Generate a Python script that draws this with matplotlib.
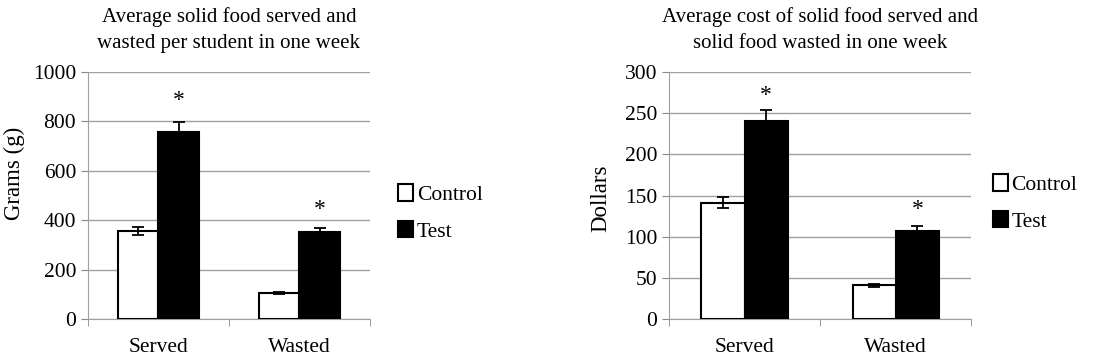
import numpy as np
from matplotlib import pyplot as plt

plt.rcParams['font.family'] = ['Liberation Serif', 'DejaVu Serif']

categories = ['Served', 'Wasted']
series = ['Control', 'Test']

# grams per student
grams_control = [356, 104]
grams_control_err = [17, 4]
grams_test = [758, 351]
grams_test_err = [38, 19]

# dollars
cost_control = [141.5, 41]
cost_control_err = [7, 2]
cost_test = [241, 107]
cost_test_err = [13, 6]

titles = ['Average solid food served and\nwasted per student in one week',
          'Average cost of solid food served and\nsolid food wasted in one week']
ylabels = ['Grams (g)', 'Dollars']
yticks = [np.arange(0, 1001, 200), np.arange(0, 301, 50)]
stars = [[884, 445], [272, 133]]


def draw_panel(ax, ctrl, ctrl_err, test, test_err, title, ylabel, ticks, star_y):
    x = np.arange(len(categories))
    w = 0.285
    ax.bar(x - w / 2, ctrl, w, color='white', edgecolor='black', linewidth=1.5,
           label=series[0], zorder=3)
    ax.bar(x + w / 2, test, w, color='black', edgecolor='black', linewidth=1.5,
           label=series[1], zorder=3)
    ax.errorbar(x - w / 2, ctrl, yerr=ctrl_err, fmt='none', ecolor='black',
                elinewidth=1.3, capsize=4, capthick=1.3, zorder=4)
    ax.errorbar(x + w / 2, test, yerr=test_err, fmt='none', ecolor='black',
                elinewidth=1.3, capsize=4, capthick=1.3, zorder=4)
    for xi, sy in zip(x, star_y):
        ax.text(xi + w / 2, sy, '*', ha='center', va='center', fontsize=17)

    ax.set_xlim(-0.5, 1.5)
    ax.set_ylim(ticks[0], ticks[-1])
    ax.set_yticks(ticks)
    ax.set_xticks(x)
    ax.set_xticklabels(categories, fontsize=15.5)
    ax.set_xticks([-0.5, 0.5, 1.5], minor=True)
    ax.tick_params(axis='x', which='major', length=0, pad=14)
    ax.tick_params(axis='x', which='minor', length=5, color='#888888', direction='out')
    ax.tick_params(axis='y', labelsize=15.5, length=5, color='#888888')
    ax.yaxis.grid(True, color='#a0a0a0', linewidth=1, linestyle='-', zorder=0)
    ax.set_axisbelow(True)
    for s in ['top', 'right']:
        ax.spines[s].set_visible(False)
    ax.spines['left'].set_color('#a0a0a0')
    ax.spines['bottom'].set_color('#a0a0a0')
    ax.set_title(title, fontsize=15, pad=17, linespacing=1.55)
    ax.set_ylabel(ylabel, fontsize=16.5)


fig = plt.figure(figsize=(10.94, 3.64), dpi=100)
ax1 = fig.add_axes([0.0804, 0.1236, 0.2578, 0.6784])
ax2 = fig.add_axes([0.6115, 0.1236, 0.2765, 0.6784])

draw_panel(ax1, grams_control, grams_control_err, grams_test, grams_test_err,
           titles[0], ylabels[0], yticks[0], stars[0])
draw_panel(ax2, cost_control, cost_control_err, cost_test, cost_test_err,
           titles[1], ylabels[1], yticks[1], stars[1])
ax1.yaxis.set_label_coords(-0.225, 0.59)
ax2.yaxis.set_label_coords(-0.19, 0.49)

ax1.legend(loc='center left', bbox_to_anchor=(1.07, 0.43), frameon=False,
           fontsize=15.5, handlelength=0.7, handleheight=0.8, handletextpad=0.15,
           labelspacing=0.75, borderaxespad=0)
ax2.legend(loc='center left', bbox_to_anchor=(1.043, 0.47), frameon=False,
           fontsize=15.5, handlelength=0.7, handleheight=0.8, handletextpad=0.15,
           labelspacing=0.75, borderaxespad=0)

fig.savefig('out.png', dpi=100)
